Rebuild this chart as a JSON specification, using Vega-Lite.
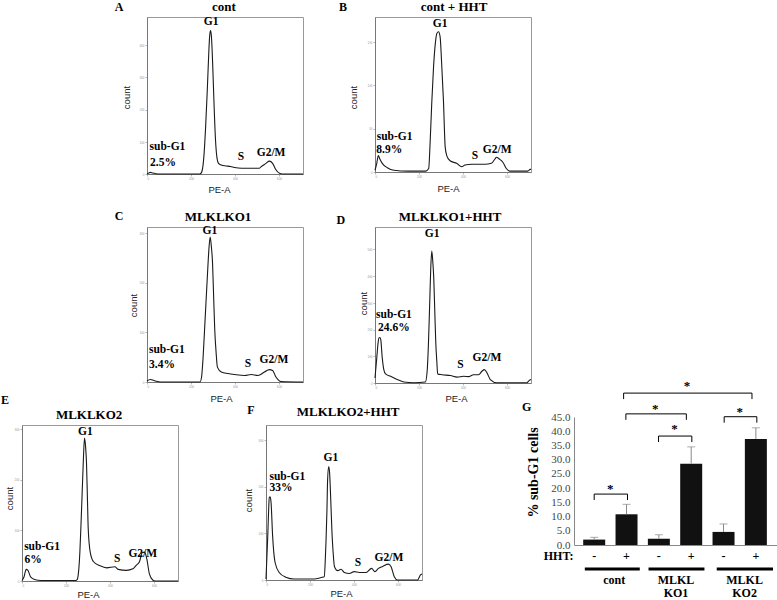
{
  "$schema": "https://vega.github.io/schema/vega-lite/v6.json",
  "padding": 0,
  "background": "white",
  "config": {
    "view": {"stroke": null},
    "axis": {
      "grid": false, "domainColor": "#777", "domainWidth": 1, "tickColor": "#888", "tickSize": 2, "tickWidth": 0.6,
      "labelFont": "Liberation Sans", "labelFontSize": 3, "labelColor": "#999", "labelPadding": 1, "labelOverlap": false,
      "titleFont": "Liberation Sans", "titleFontSize": 9.5, "titleFontWeight": "normal", "titleColor": "#222",
      "titleBaseline": "middle", "titleAlign": "center"
    },
    "text": {"font": "Liberation Serif", "fontWeight": "bold", "fontSize": 11.5, "color": "black", "baseline": "middle", "align": "center"}
  },
  "datasets": {
    "histA": [
      {"pe": 0, "count": 0}, {"pe": 8, "count": 3}, {"pe": 15, "count": 5}, {"pe": 25, "count": 3}, {"pe": 40, "count": 1},
      {"pe": 60, "count": 0}, {"pe": 240, "count": 0}, {"pe": 248, "count": 5}, {"pe": 258, "count": 50}, {"pe": 266, "count": 140},
      {"pe": 274, "count": 260}, {"pe": 281, "count": 380}, {"pe": 285, "count": 430}, {"pe": 289, "count": 445}, {"pe": 293, "count": 425},
      {"pe": 298, "count": 350}, {"pe": 304, "count": 230}, {"pe": 311, "count": 110}, {"pe": 318, "count": 50}, {"pe": 325, "count": 33},
      {"pe": 340, "count": 27}, {"pe": 360, "count": 25}, {"pe": 380, "count": 23}, {"pe": 398, "count": 20}, {"pe": 430, "count": 18},
      {"pe": 470, "count": 18}, {"pe": 511, "count": 18}, {"pe": 519, "count": 23}, {"pe": 541, "count": 33}, {"pe": 556, "count": 40},
      {"pe": 571, "count": 33}, {"pe": 586, "count": 13}, {"pe": 602, "count": 2}, {"pe": 615, "count": 0}, {"pe": 709, "count": 0}
    ],
    "histB": [
      {"pe": 0, "count": 2}, {"pe": 8, "count": 10}, {"pe": 15, "count": 19}, {"pe": 22, "count": 15}, {"pe": 33, "count": 10},
      {"pe": 56, "count": 5}, {"pe": 86, "count": 2}, {"pe": 150, "count": 1}, {"pe": 230, "count": 1}, {"pe": 244, "count": 4},
      {"pe": 251, "count": 37}, {"pe": 258, "count": 80}, {"pe": 266, "count": 121}, {"pe": 274, "count": 148}, {"pe": 281, "count": 160},
      {"pe": 289, "count": 162}, {"pe": 296, "count": 156}, {"pe": 303, "count": 125}, {"pe": 311, "count": 83}, {"pe": 319, "count": 29},
      {"pe": 326, "count": 19}, {"pe": 341, "count": 13}, {"pe": 371, "count": 10}, {"pe": 394, "count": 6}, {"pe": 409, "count": 8},
      {"pe": 440, "count": 9}, {"pe": 470, "count": 9}, {"pe": 500, "count": 9}, {"pe": 529, "count": 10}, {"pe": 545, "count": 15},
      {"pe": 552, "count": 17}, {"pe": 565, "count": 15}, {"pe": 582, "count": 11}, {"pe": 597, "count": 4}, {"pe": 612, "count": 1},
      {"pe": 695, "count": 1}, {"pe": 705, "count": 3}, {"pe": 709, "count": 3}
    ],
    "histC": [
      {"pe": 0, "count": 2}, {"pe": 15, "count": 5}, {"pe": 38, "count": 2}, {"pe": 60, "count": 0}, {"pe": 241, "count": 0},
      {"pe": 248, "count": 10}, {"pe": 255, "count": 50}, {"pe": 263, "count": 117}, {"pe": 275, "count": 218}, {"pe": 281, "count": 265},
      {"pe": 287, "count": 292}, {"pe": 292, "count": 275}, {"pe": 298, "count": 238}, {"pe": 303, "count": 170}, {"pe": 308, "count": 104},
      {"pe": 314, "count": 60}, {"pe": 320, "count": 30}, {"pe": 338, "count": 20}, {"pe": 368, "count": 17}, {"pe": 398, "count": 15},
      {"pe": 444, "count": 13}, {"pe": 474, "count": 15}, {"pe": 504, "count": 13}, {"pe": 534, "count": 20}, {"pe": 556, "count": 25},
      {"pe": 571, "count": 23}, {"pe": 586, "count": 10}, {"pe": 609, "count": 1}, {"pe": 709, "count": 0}
    ],
    "histD": [
      {"pe": 0, "count": 19}, {"pe": 8, "count": 94}, {"pe": 14, "count": 150}, {"pe": 18, "count": 169}, {"pe": 22, "count": 170},
      {"pe": 26, "count": 163}, {"pe": 33, "count": 94}, {"pe": 40, "count": 50}, {"pe": 48, "count": 34}, {"pe": 71, "count": 25},
      {"pe": 101, "count": 13}, {"pe": 131, "count": 4}, {"pe": 177, "count": 1}, {"pe": 229, "count": 4}, {"pe": 237, "count": 44},
      {"pe": 243, "count": 150}, {"pe": 248, "count": 281}, {"pe": 253, "count": 420}, {"pe": 258, "count": 494}, {"pe": 263, "count": 450},
      {"pe": 267, "count": 394}, {"pe": 272, "count": 260}, {"pe": 276, "count": 156}, {"pe": 281, "count": 80}, {"pe": 285, "count": 34},
      {"pe": 305, "count": 31}, {"pe": 343, "count": 28}, {"pe": 373, "count": 22}, {"pe": 403, "count": 25}, {"pe": 425, "count": 24},
      {"pe": 448, "count": 31}, {"pe": 471, "count": 31}, {"pe": 486, "count": 44}, {"pe": 497, "count": 50}, {"pe": 509, "count": 38},
      {"pe": 524, "count": 13}, {"pe": 554, "count": 1}, {"pe": 690, "count": 1}, {"pe": 700, "count": 9}, {"pe": 709, "count": 13}
    ],
    "histE": [
      {"pe": 0, "count": 1}, {"pe": 9, "count": 8}, {"pe": 19, "count": 23}, {"pe": 27, "count": 21}, {"pe": 39, "count": 8},
      {"pe": 57, "count": 3}, {"pe": 87, "count": 1}, {"pe": 245, "count": 1}, {"pe": 251, "count": 3}, {"pe": 263, "count": 57},
      {"pe": 268, "count": 110}, {"pe": 273, "count": 169}, {"pe": 279, "count": 240}, {"pe": 284, "count": 282}, {"pe": 289, "count": 265},
      {"pe": 293, "count": 235}, {"pe": 297, "count": 170}, {"pe": 301, "count": 103}, {"pe": 310, "count": 57}, {"pe": 325, "count": 38},
      {"pe": 355, "count": 30}, {"pe": 385, "count": 26}, {"pe": 422, "count": 28}, {"pe": 437, "count": 23}, {"pe": 475, "count": 21},
      {"pe": 504, "count": 24}, {"pe": 519, "count": 31}, {"pe": 534, "count": 38}, {"pe": 546, "count": 56}, {"pe": 557, "count": 57},
      {"pe": 567, "count": 44}, {"pe": 579, "count": 14}, {"pe": 594, "count": 2}, {"pe": 605, "count": 0}, {"pe": 709, "count": 0}
    ],
    "histF": [
      {"pe": 0, "count": 2}, {"pe": 8, "count": 95}, {"pe": 12, "count": 150}, {"pe": 15, "count": 177}, {"pe": 19, "count": 178},
      {"pe": 23, "count": 166}, {"pe": 30, "count": 95}, {"pe": 41, "count": 38}, {"pe": 60, "count": 16}, {"pe": 90, "count": 6},
      {"pe": 128, "count": 2}, {"pe": 218, "count": 2}, {"pe": 256, "count": 6}, {"pe": 265, "count": 7}, {"pe": 270, "count": 50},
      {"pe": 273, "count": 86}, {"pe": 277, "count": 150}, {"pe": 280, "count": 214}, {"pe": 285, "count": 243}, {"pe": 289, "count": 230},
      {"pe": 292, "count": 200}, {"pe": 296, "count": 150}, {"pe": 300, "count": 100}, {"pe": 305, "count": 60}, {"pe": 311, "count": 29},
      {"pe": 326, "count": 20}, {"pe": 341, "count": 23}, {"pe": 356, "count": 16}, {"pe": 379, "count": 14}, {"pe": 401, "count": 18},
      {"pe": 424, "count": 16}, {"pe": 455, "count": 16}, {"pe": 480, "count": 25}, {"pe": 495, "count": 18}, {"pe": 511, "count": 25},
      {"pe": 530, "count": 29}, {"pe": 556, "count": 34}, {"pe": 568, "count": 29}, {"pe": 583, "count": 7}, {"pe": 598, "count": 0},
      {"pe": 689, "count": 0}, {"pe": 702, "count": 11}, {"pe": 709, "count": 13}
    ],
    "labA": [
      {"pe": 291, "count": 472, "text": "G1"}, {"pe": 93, "count": 84, "text": "sub-G1"}, {"pe": 73, "count": 34, "text": "2.5%"},
      {"pe": 427, "count": 53, "text": "S"}, {"pe": 564, "count": 66, "text": "G2/M"}
    ],
    "labB": [
      {"pe": 296, "count": 171, "text": "G1"}, {"pe": 89, "count": 40, "text": "sub-G1"}, {"pe": 65, "count": 25, "text": "8.9%"},
      {"pe": 454, "count": 19, "text": "S"}, {"pe": 555, "count": 25, "text": "G2/M"}
    ],
    "labC": [
      {"pe": 286, "count": 304, "text": "G1"}, {"pe": 90, "count": 64, "text": "sub-G1"}, {"pe": 68, "count": 34, "text": "3.4%"},
      {"pe": 459, "count": 37, "text": "S"}, {"pe": 577, "count": 44, "text": "G2/M"}
    ],
    "labD": [
      {"pe": 260, "count": 556, "text": "G1"}, {"pe": 86, "count": 256, "text": "sub-G1"}, {"pe": 86, "count": 206, "text": "24.6%"},
      {"pe": 388, "count": 69, "text": "S"}, {"pe": 509, "count": 94, "text": "G2/M"}
    ],
    "labE": [
      {"pe": 288, "count": 294, "text": "G1"}, {"pe": 91, "count": 67, "text": "sub-G1"}, {"pe": 51, "count": 41, "text": "6%"},
      {"pe": 433, "count": 43, "text": "S"}, {"pe": 549, "count": 54, "text": "G2/M"}
    ],
    "labF": [
      {"pe": 295, "count": 261, "text": "G1"}, {"pe": 97, "count": 221, "text": "sub-G1"}, {"pe": 68, "count": 196, "text": "33%"},
      {"pe": 418, "count": 36, "text": "S"}, {"pe": 559, "count": 47, "text": "G2/M"}
    ],
    "gbar": [
      {"pos": 1, "pct": 1.9, "err": 2.7}, {"pos": 2, "pct": 10.8, "err": 14.3}, {"pos": 3, "pct": 2.2, "err": 3.6},
      {"pos": 4, "pct": 28.6, "err": 34.5}, {"pos": 5, "pct": 4.6, "err": 7.4}, {"pos": 6, "pct": 37.3, "err": 41.2}
    ],
    "gbracket": [
      {"b": 1, "i": 1, "x": 1.0, "y": 15.8}, {"b": 1, "i": 2, "x": 1.0, "y": 17.9}, {"b": 1, "i": 3, "x": 2.03, "y": 17.9}, {"b": 1, "i": 4, "x": 2.03, "y": 15.8},
      {"b": 2, "i": 1, "x": 2.99, "y": 36.2}, {"b": 2, "i": 2, "x": 2.99, "y": 38.3}, {"b": 2, "i": 3, "x": 4.02, "y": 38.3}, {"b": 2, "i": 4, "x": 4.02, "y": 36.2},
      {"b": 3, "i": 1, "x": 1.98, "y": 44.0}, {"b": 3, "i": 2, "x": 1.98, "y": 46.1}, {"b": 3, "i": 3, "x": 3.85, "y": 46.1}, {"b": 3, "i": 4, "x": 3.85, "y": 44.0},
      {"b": 4, "i": 1, "x": 5.02, "y": 43.0}, {"b": 4, "i": 2, "x": 5.02, "y": 45.1}, {"b": 4, "i": 3, "x": 6.03, "y": 45.1}, {"b": 4, "i": 4, "x": 6.03, "y": 43.0},
      {"b": 5, "i": 1, "x": 1.91, "y": 51.3}, {"b": 5, "i": 2, "x": 1.91, "y": 53.4}, {"b": 5, "i": 3, "x": 5.88, "y": 53.4}, {"b": 5, "i": 4, "x": 5.88, "y": 51.3}
    ],
    "gstar": [
      {"x": 1.5, "y": 18.2}, {"x": 3.48, "y": 39.2}, {"x": 2.89, "y": 46.4}, {"x": 5.5, "y": 45.4}, {"x": 3.87, "y": 54.6}
    ],
    "gtext": [
      {"x": -0.1, "y": -4.0, "text": "HHT:"},
      {"x": 1, "y": -4.0, "text": "-"}, {"x": 2, "y": -4.0, "text": "+"},
      {"x": 3, "y": -4.0, "text": "-"}, {"x": 4, "y": -4.0, "text": "+"},
      {"x": 5, "y": -4.0, "text": "-"}, {"x": 6, "y": -4.0, "text": "+"},
      {"x": 1.62, "y": -12.3, "text": "cont"},
      {"x": 3.53, "y": -12.3, "text": "MLKL"}, {"x": 3.53, "y": -16.9, "text": "KO1"},
      {"x": 5.65, "y": -12.3, "text": "MLKL"}, {"x": 5.65, "y": -16.9, "text": "KO2"}
    ],
    "ggroup": [
      {"x1": 0.71, "x2": 2.41, "y": -8.4}, {"x1": 2.68, "x2": 4.41, "y": -8.4}, {"x1": 4.79, "x2": 6.53, "y": -8.4}
    ]
  },
  "hconcat": [
    {
      "vconcat": [
        {
          "vconcat": [
            {
              "hconcat": [
                {"width": 53, "height": 10, "data": {"values": []}, "mark": "point", "encoding": {}},
                {
                  "width": 156, "height": 157, "view": {"stroke": "#999"},
                  "layer": [
                    {"data": {"name": "histA"}, "mark": {"type": "line", "interpolate": "monotone", "color": "#1a1a1a", "strokeWidth": 1.1},
                     "encoding": {
                       "x": {"field": "pe", "type": "quantitative", "scale": {"domain": [0, 709], "nice": false, "zero": false}, "axis": {"values": [0, 200, 400, 600], "tickCount": 20, "title": "PE-A", "titleX": 72, "titleY": 15}},
                       "y": {"field": "count", "type": "quantitative", "scale": {"domain": [0, 487], "nice": false}, "axis": {"values": [0, 100, 200, 300, 400], "tickCount": 20, "title": "count", "titleX": -21, "titleY": 80}}}},
                    {"data": {"name": "labA"}, "mark": "text",
                     "encoding": {"x": {"field": "pe", "type": "quantitative"}, "y": {"field": "count", "type": "quantitative"}, "text": {"field": "text"}}},
                    {"data": {"values": [{"panel": "A"}]}, "mark": {"type": "text", "fontSize": 12},
                     "encoding": {"x": {"datum": -127}, "y": {"datum": 519}, "text": {"field": "panel"}}},
                    {"data": {"values": [{"title": "cont"}]}, "mark": {"type": "text", "fontSize": 13},
                     "encoding": {"x": {"datum": 350}, "y": {"datum": 519}, "text": {"field": "title"}}}
                  ]
                },
                {
                  "width": 156, "height": 155, "view": {"stroke": "#999"},
                  "layer": [
                    {"data": {"name": "histB"}, "mark": {"type": "line", "interpolate": "monotone", "color": "#1a1a1a", "strokeWidth": 1.1},
                     "encoding": {
                       "x": {"field": "pe", "type": "quantitative", "scale": {"domain": [0, 709], "nice": false, "zero": false}, "axis": {"values": [0, 200, 400, 600], "tickCount": 20, "title": "PE-A", "titleX": 73, "titleY": 16}},
                       "y": {"field": "count", "type": "quantitative", "scale": {"domain": [0, 179], "nice": false}, "axis": {"values": [0, 50, 100, 150], "tickCount": 20, "title": "count", "titleX": -22, "titleY": 80}}}},
                    {"data": {"name": "labB"}, "mark": "text",
                     "encoding": {"x": {"field": "pe", "type": "quantitative"}, "y": {"field": "count", "type": "quantitative"}, "text": {"field": "text"}}},
                    {"data": {"values": [{"panel": "B"}]}, "mark": {"type": "text", "fontSize": 12},
                     "encoding": {"x": {"datum": -145}, "y": {"datum": 191}, "text": {"field": "panel"}}},
                    {"data": {"values": [{"title": "cont + HHT"}]}, "mark": {"type": "text", "fontSize": 13},
                     "encoding": {"x": {"datum": 359}, "y": {"datum": 191}, "text": {"field": "title"}}}
                  ]
                }
              ],
              "spacing": 72, "bounds": "flush"
            },
            {
              "hconcat": [
                {"width": 53, "height": 10, "data": {"values": []}, "mark": "point", "encoding": {}},
                {
                  "width": 156, "height": 155, "view": {"stroke": "#999"},
                  "layer": [
                    {"data": {"name": "histC"}, "mark": {"type": "line", "interpolate": "monotone", "color": "#1a1a1a", "strokeWidth": 1.1},
                     "encoding": {
                       "x": {"field": "pe", "type": "quantitative", "scale": {"domain": [0, 709], "nice": false, "zero": false}, "axis": {"values": [0, 200, 400, 600], "tickCount": 20, "title": "PE-A", "titleX": 74, "titleY": 16}},
                       "y": {"field": "count", "type": "quantitative", "scale": {"domain": [0, 312], "nice": false}, "axis": {"values": [0, 100, 200, 300], "tickCount": 20, "title": "count", "titleX": -14, "titleY": 78}}}},
                    {"data": {"name": "labC"}, "mark": "text",
                     "encoding": {"x": {"field": "pe", "type": "quantitative"}, "y": {"field": "count", "type": "quantitative"}, "text": {"field": "text"}}},
                    {"data": {"values": [{"panel": "C"}]}, "mark": {"type": "text", "fontSize": 12},
                     "encoding": {"x": {"datum": -127}, "y": {"datum": 334}, "text": {"field": "panel"}}},
                    {"data": {"values": [{"title": "MLKLKO1"}]}, "mark": {"type": "text", "fontSize": 13},
                     "encoding": {"x": {"datum": 323}, "y": {"datum": 332}, "text": {"field": "title"}}}
                  ]
                },
                {
                  "width": 156, "height": 156, "view": {"stroke": "#999"},
                  "layer": [
                    {"data": {"name": "histD"}, "mark": {"type": "line", "interpolate": "monotone", "color": "#1a1a1a", "strokeWidth": 1.1},
                     "encoding": {
                       "x": {"field": "pe", "type": "quantitative", "scale": {"domain": [0, 709], "nice": false, "zero": false}, "axis": {"values": [0, 200, 400, 600], "tickCount": 20, "title": "PE-A", "titleX": 81, "titleY": 15}},
                       "y": {"field": "count", "type": "quantitative", "scale": {"domain": [0, 584], "nice": false}, "axis": {"values": [0, 100, 200, 300, 400, 500], "tickCount": 20, "title": "count", "titleX": -12, "titleY": 76}}}},
                    {"data": {"name": "labD"}, "mark": "text",
                     "encoding": {"x": {"field": "pe", "type": "quantitative"}, "y": {"field": "count", "type": "quantitative"}, "text": {"field": "text"}}},
                    {"data": {"values": [{"panel": "D"}]}, "mark": {"type": "text", "fontSize": 12},
                     "encoding": {"x": {"datum": -155}, "y": {"datum": 610}, "text": {"field": "panel"}}},
                    {"data": {"values": [{"title": "MLKLKO1+HHT"}]}, "mark": {"type": "text", "fontSize": 13},
                     "encoding": {"x": {"datum": 341}, "y": {"datum": 621}, "text": {"field": "title"}}}
                  ]
                }
              ],
              "spacing": 72, "bounds": "flush"
            }
          ],
          "spacing": 210, "bounds": "flush"
        },
        {
          "hconcat": [
            {
              "width": 156, "height": 156, "view": {"stroke": "#999"},
              "layer": [
                {"data": {"name": "histE"}, "mark": {"type": "line", "interpolate": "monotone", "color": "#1a1a1a", "strokeWidth": 1.1},
                 "encoding": {
                   "x": {"field": "pe", "type": "quantitative", "scale": {"domain": [0, 709], "nice": false, "zero": false}, "axis": {"values": [0, 200, 400, 600], "tickCount": 20, "title": "PE-A", "titleX": 66, "titleY": 13}},
                   "y": {"field": "count", "type": "quantitative", "scale": {"domain": [0, 308], "nice": false}, "axis": {"values": [0, 100, 200, 300], "tickCount": 20, "title": "count", "titleX": -13, "titleY": 73}}}},
                {"data": {"name": "labE"}, "mark": "text",
                 "encoding": {"x": {"field": "pe", "type": "quantitative"}, "y": {"field": "count", "type": "quantitative"}, "text": {"field": "text"}}},
                {"data": {"values": [{"panel": "E"}]}, "mark": {"type": "text", "fontSize": 12},
                 "encoding": {"x": {"datum": -77}, "y": {"datum": 357}, "text": {"field": "panel"}}},
                {"data": {"values": [{"title": "MLKLKO2"}]}, "mark": {"type": "text", "fontSize": 13},
                 "encoding": {"x": {"datum": 305}, "y": {"datum": 328}, "text": {"field": "title"}}}
              ]
            },
            {
              "width": 156, "height": 155, "view": {"stroke": "#999"},
              "layer": [
                {"data": {"name": "histF"}, "mark": {"type": "line", "interpolate": "monotone", "color": "#1a1a1a", "strokeWidth": 1.1},
                 "encoding": {
                   "x": {"field": "pe", "type": "quantitative", "scale": {"domain": [0, 709], "nice": false, "zero": false}, "axis": {"values": [0, 200, 400, 600], "tickCount": 20, "title": "PE-A", "titleX": 75, "titleY": 13}},
                   "y": {"field": "count", "type": "quantitative", "scale": {"domain": [0, 332], "nice": false}, "axis": {"values": [0, 100, 200, 300], "tickCount": 20, "title": "count", "titleX": -18, "titleY": 75}}}},
                {"data": {"name": "labF"}, "mark": "text",
                 "encoding": {"x": {"field": "pe", "type": "quantitative"}, "y": {"field": "count", "type": "quantitative"}, "text": {"field": "text"}}},
                {"data": {"values": [{"panel": "F"}]}, "mark": {"type": "text", "fontSize": 12},
                 "encoding": {"x": {"datum": -68}, "y": {"datum": 364}, "text": {"field": "panel"}}},
                {"data": {"values": [{"title": "MLKLKO2+HHT"}]}, "mark": {"type": "text", "fontSize": 13},
                 "encoding": {"x": {"datum": 373}, "y": {"datum": 360}, "text": {"field": "title"}}}
              ]
            }
          ],
          "spacing": 88, "bounds": "flush"
        }
      ],
      "spacing": 408, "bounds": "flush"
    },
    {
      "vconcat": [
        {"width": 10, "height": 390, "data": {"values": []}, "mark": "point", "encoding": {}},
        {
          "width": 204, "height": 128,
          "layer": [
            {"data": {"name": "gbar"}, "mark": {"type": "bar", "width": 22, "color": "#111"},
             "encoding": {
               "x": {"field": "pos", "type": "quantitative", "scale": {"domain": [0.53, 6.53], "nice": false, "zero": false},
                     "axis": {"domain": true, "ticks": false, "labels": false, "title": null, "domainColor": "#888"}},
               "y": {"field": "pct", "type": "quantitative", "scale": {"domain": [0, 45], "nice": false},
                     "axis": {"values": [0, 5, 10, 15, 20, 25, 30, 35, 40, 45], "tickCount": 20, "format": ".1f", "ticks": false, "domainColor": "#888",
                              "labelFont": "Liberation Serif", "labelFontSize": 11, "labelColor": "#444", "labelPadding": 4,
                              "title": "% sub-G1 cells", "titleFont": "Liberation Serif", "titleFontWeight": "bold", "titleFontSize": 14,
                              "titleColor": "black", "titleX": -41, "titleY": 55}}}},
            {"data": {"name": "gbar"}, "mark": {"type": "rule", "color": "#888", "strokeWidth": 1},
             "encoding": {"x": {"field": "pos", "type": "quantitative"}, "y": {"field": "pct", "type": "quantitative"}, "y2": {"field": "err"}}},
            {"data": {"name": "gbar"}, "mark": {"type": "tick", "orient": "horizontal", "size": 8, "thickness": 1, "color": "#888"},
             "encoding": {"x": {"field": "pos", "type": "quantitative"}, "y": {"field": "err", "type": "quantitative"}}},
            {"data": {"name": "gbracket"}, "mark": {"type": "line", "color": "black", "strokeWidth": 1},
             "encoding": {"x": {"field": "x", "type": "quantitative"}, "y": {"field": "y", "type": "quantitative"}, "detail": {"field": "b"}, "order": {"field": "i"}}},
            {"data": {"name": "gstar"}, "mark": {"type": "text", "text": "*", "fontSize": 13, "baseline": "alphabetic"},
             "encoding": {"x": {"field": "x", "type": "quantitative"}, "y": {"field": "y", "type": "quantitative"}}},
            {"data": {"name": "ggroup"}, "mark": {"type": "rule", "color": "black", "strokeWidth": 3},
             "encoding": {"x": {"field": "x1", "type": "quantitative"}, "x2": {"field": "x2"}, "y": {"field": "y", "type": "quantitative"}}},
            {"data": {"name": "gtext"}, "mark": {"type": "text", "fontSize": 12},
             "encoding": {"x": {"field": "x", "type": "quantitative"}, "y": {"field": "y", "type": "quantitative"}, "text": {"field": "text"}}},
            {"data": {"values": [{"panel": "G"}]}, "mark": {"type": "text", "fontSize": 12},
             "encoding": {"x": {"datum": -1.09}, "y": {"datum": 48.5}, "text": {"field": "panel"}}}
          ]
        }
      ],
      "spacing": 10, "bounds": "flush"
    }
  ],
  "spacing": 552,
  "bounds": "flush"
}
